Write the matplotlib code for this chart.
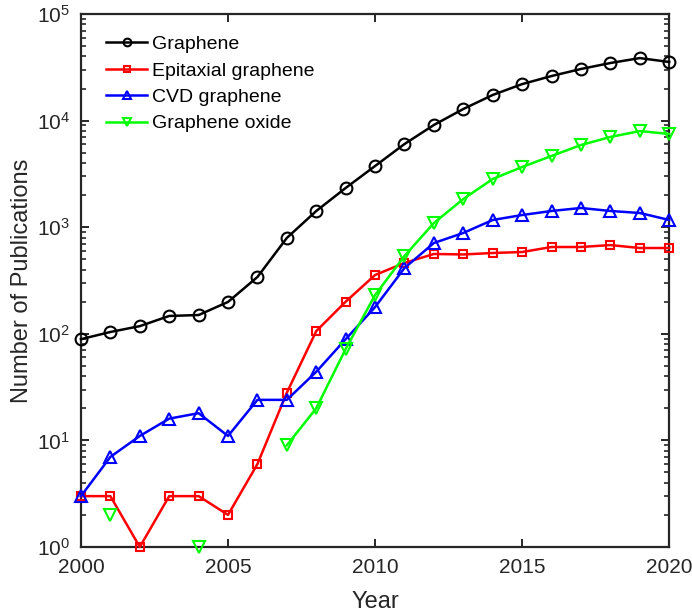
import numpy as np
import matplotlib
matplotlib.use('Agg')
import matplotlib.pyplot as plt
from matplotlib.ticker import LogLocator, FixedLocator

plt.rcParams['font.family'] = ['Liberation Sans', 'DejaVu Sans']
plt.rcParams['mathtext.fontset'] = 'custom'
plt.rcParams['mathtext.rm'] = 'Liberation Sans'
plt.rcParams['mathtext.it'] = 'Liberation Sans:italic'

nan = np.nan
years = list(range(2000, 2021))

#publications per year
graphene = [89, 104, 118, 147, 150, 199, 341, 793, 1419, 2333, 3750,
            6030, 9100, 12850, 17400, 22000, 26200, 30500, 34700, 38600, 35500]
epitaxial = [3, 3, 1, 3, 3, 2, 6, 28, 106, 200, 356,
             462, 561, 555, 573, 585, 652, 652, 680, 638, 638]
cvd = [3, 7, 11, 16, 18, 11, 24, 24, 44, 89, 178,
       414, 711, 883, 1169, 1301, 1420, 1515, 1420, 1360, 1169]
oxide = [nan, 2, nan, nan, 1, nan, nan, 9, 20, 72, 231,
         537, 1095, 1838, 2834, 3670, 4660, 5900, 7020, 7980, 7490]

labels = ['Graphene', 'Epitaxial graphene', 'CVD graphene', 'Graphene oxide']

fig = plt.figure(figsize=(6.92, 6.15), dpi=100)
ax = fig.add_axes([0.117, 0.1106, 0.850, 0.8666])

lw = 1.8
ax.plot(years, graphene, '-o', color='k', lw=lw, ms=8.5, mfc='none', mew=1.5,
        label=labels[0], clip_on=False, zorder=3)
ax.plot(years, epitaxial, '-s', color='#ff0000', lw=lw, ms=6, mfc='none', mew=1.5,
        label=labels[1], clip_on=False, zorder=3)
ax.plot(years, cvd, '-^', color='#0000ff', lw=lw, ms=9, mfc='none', mew=1.5,
        label=labels[2], clip_on=False, zorder=3)
ax.plot(years, oxide, '-v', color='#00ff00', lw=lw, ms=9, mfc='none', mew=1.5,
        label=labels[3], clip_on=False, zorder=3)

ax.set_yscale('log')
ax.set_xlim(2000, 2020)
ax.set_ylim(1, 1e5)
ax.xaxis.set_major_locator(FixedLocator([2000, 2005, 2010, 2015, 2020]))
ax.yaxis.set_major_locator(LogLocator(base=10, numticks=10))
ax.yaxis.set_minor_locator(LogLocator(base=10, subs=np.arange(2, 10), numticks=10))

axcol = '#262626'
for s in ax.spines.values():
    s.set_linewidth(1.6)
    s.set_color(axcol)
ax.tick_params(which='both', direction='in', top=True, right=True,
               colors=axcol, labelsize=15, labelcolor=axcol)
ax.tick_params(which='major', length=6, width=1.4, pad=8)
ax.tick_params(which='minor', length=3.5, width=1.2)

ax.set_xlabel('Year', fontsize=17, color=axcol, labelpad=10)
ax.set_ylabel('Number of Publications', fontsize=17, color=axcol, labelpad=3)

ax.legend(loc='upper left', frameon=False, fontsize=14, handlelength=2.1,
          handletextpad=0.25, labelspacing=0.45, markerscale=0.65,
          borderaxespad=0.3, bbox_to_anchor=(0.02, 0.985))

fig.savefig('out.png', dpi=100)
